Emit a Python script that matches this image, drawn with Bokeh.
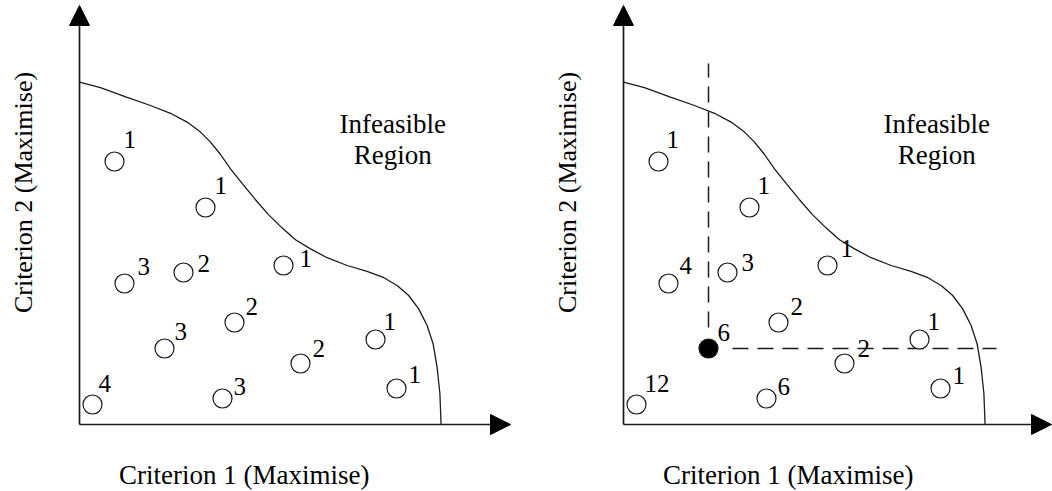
import math
from bokeh.plotting import figure
from bokeh.models import Label, Arrow, NormalHead, ColumnDataSource
from bokeh.layouts import row
from bokeh.embed import file_html
from bokeh.resources import INLINE
from bokeh.core.properties import value

# ---- data (arbitrary criterion units) ----
sol_x = [8.75, 31.5, 11.25, 26.0, 51.0, 38.75, 21.25, 74.0, 55.25, 79.25, 3.25, 35.75]
sol_y = [65.75, 54.25, 35.25, 38.0, 39.75, 25.5, 19.0, 21.25, 15.25, 9.0, 5.0, 6.5]
labels_left = ["1", "1", "3", "2", "1", "2", "3", "1", "2", "1", "4", "3"]
labels_right = ["1", "1", "4", "3", "1", "2", "6", "1", "2", "1", "12", "6"]
selected_index = 6

front_x = [0, 5.25, 11.9, 17.75, 22.75, 26.9, 30.25, 32.75, 35.25, 37.75, 40.7, 44.0, 47.3,
           50.7, 54.0, 57.75, 61.9, 66.9, 71.9, 76.1, 79.4, 82.3, 84.8, 86.9, 88.4, 89.4, 90.1, 90.4]
front_y = [85.6, 84.2, 81.8, 79.75, 77.8, 75.6, 73.1, 70.6, 67.5, 63.9, 60.2, 56.2, 52.4,
           49.1, 46.2, 43.9, 41.7, 39.75, 38.3, 36.7, 34.75, 32.25, 28.9, 24.75, 20.2, 14.3, 7.7, 0]

x_title = "Criterion 1 (Maximise)"
y_title = "Criterion 2 (Maximise)"
region_lines = ["Infeasible", "Region"]

# label nudges (screen px) for the superscript-like counts
nudge_left = [(9, -13), (9, -13), (13, -8), (14, 0), (16, 2), (11, -7), (10, -8), (8, -9),
              (12, -6), (12, -5), (6, -12), (11, -3)]
nudge_right = [(8, -13), (8, -13), (11, -9), (14, -1), (13, -8), (12, -7), (9, -7), (8, -9),
               (13, -6), (12, -4), (8, -12), (11, -3)]
BASELINE_FIX = -9  # px, compensates the renderer's baseline placement

FONT = "Liberation Serif"
INK = "#1a1a1a"
Y_RANGE = (-16.75, 106)


def make_panel(width, x_range, x_tip, labels, nudges, highlight):
    p = figure(width=width, height=491, x_range=x_range, y_range=Y_RANGE,
               output_backend="svg", toolbar_location=None,
               x_axis_location=None, y_axis_location=None,
               min_border=0)
    p.outline_line_color = None
    p.xgrid.visible = False
    p.ygrid.visible = False

    # axes with arrow heads
    p.add_layout(Arrow(x_start=0, y_start=0, x_end=x_tip, y_end=0,
                       line_color=INK, line_width=1.7,
                       end=NormalHead(size=20, fill_color="black", line_color="black")))
    p.add_layout(Arrow(x_start=0, y_start=0, x_end=0, y_end=104.75,
                       line_color=INK, line_width=1.7,
                       end=NormalHead(size=20, fill_color="black", line_color="black")))

    # Pareto front
    p.line(front_x, front_y, line_color=INK, line_width=1.3)

    if highlight:
        sx, sy = sol_x[selected_index], sol_y[selected_index]
        p.segment(x0=[sx], y0=[sy + 5.25], x1=[sx], y1=[90.25],
                  line_color=INK, line_width=1.5, line_dash="16 9")
        p.segment(x0=[sx + 6], y0=[sy], x1=[93.25], y1=[sy],
                  line_color=INK, line_width=1.5, line_dash="16 9")

    fills = ["black" if (highlight and i == selected_index) else "white" for i in range(len(sol_x))]
    src = ColumnDataSource(dict(x=sol_x, y=sol_y, fill=fills, lab=labels,
                                dx=[n[0] for n in nudges],
                                dy=[n[1] + BASELINE_FIX for n in nudges]))
    p.scatter("x", "y", source=src, marker="circle", size=19, fill_color="fill",
              line_color=INK, line_width=1.2)
    p.text("x", "y", text="lab", source=src, x_offset="dx", y_offset="dy",
           text_font=value(FONT), text_font_size="25px", text_color="black",
           text_align="left", text_baseline="alphabetic")

    # infeasible region annotation
    p.text(x=[78.3, 78.3], y=[75.25, 67.5], text=region_lines,
           text_font=value(FONT), text_font_size="27px", text_color="black",
           text_align="center", text_baseline="alphabetic")

    # axis titles
    p.add_layout(Label(x=41.2, y=-12.5, text=x_title, text_font=FONT, text_font_size="27px",
                       text_color="black", text_align="center", text_baseline="alphabetic"))
    p.add_layout(Label(x=-14, y=58, text=y_title, angle=math.pi / 2, text_font=FONT,
                       text_font_size="26px", text_color="black",
                       text_align="center", text_baseline="middle"))
    return p


p1 = make_panel(552, (-19.75, 118.25), 107.75, labels_left, nudge_left, False)
p2 = make_panel(500, (-17.75, 107.25), 107.0, labels_right, nudge_right, True)

layout = row(p1, p2)
open("out.html", "w").write(file_html(layout, INLINE))
